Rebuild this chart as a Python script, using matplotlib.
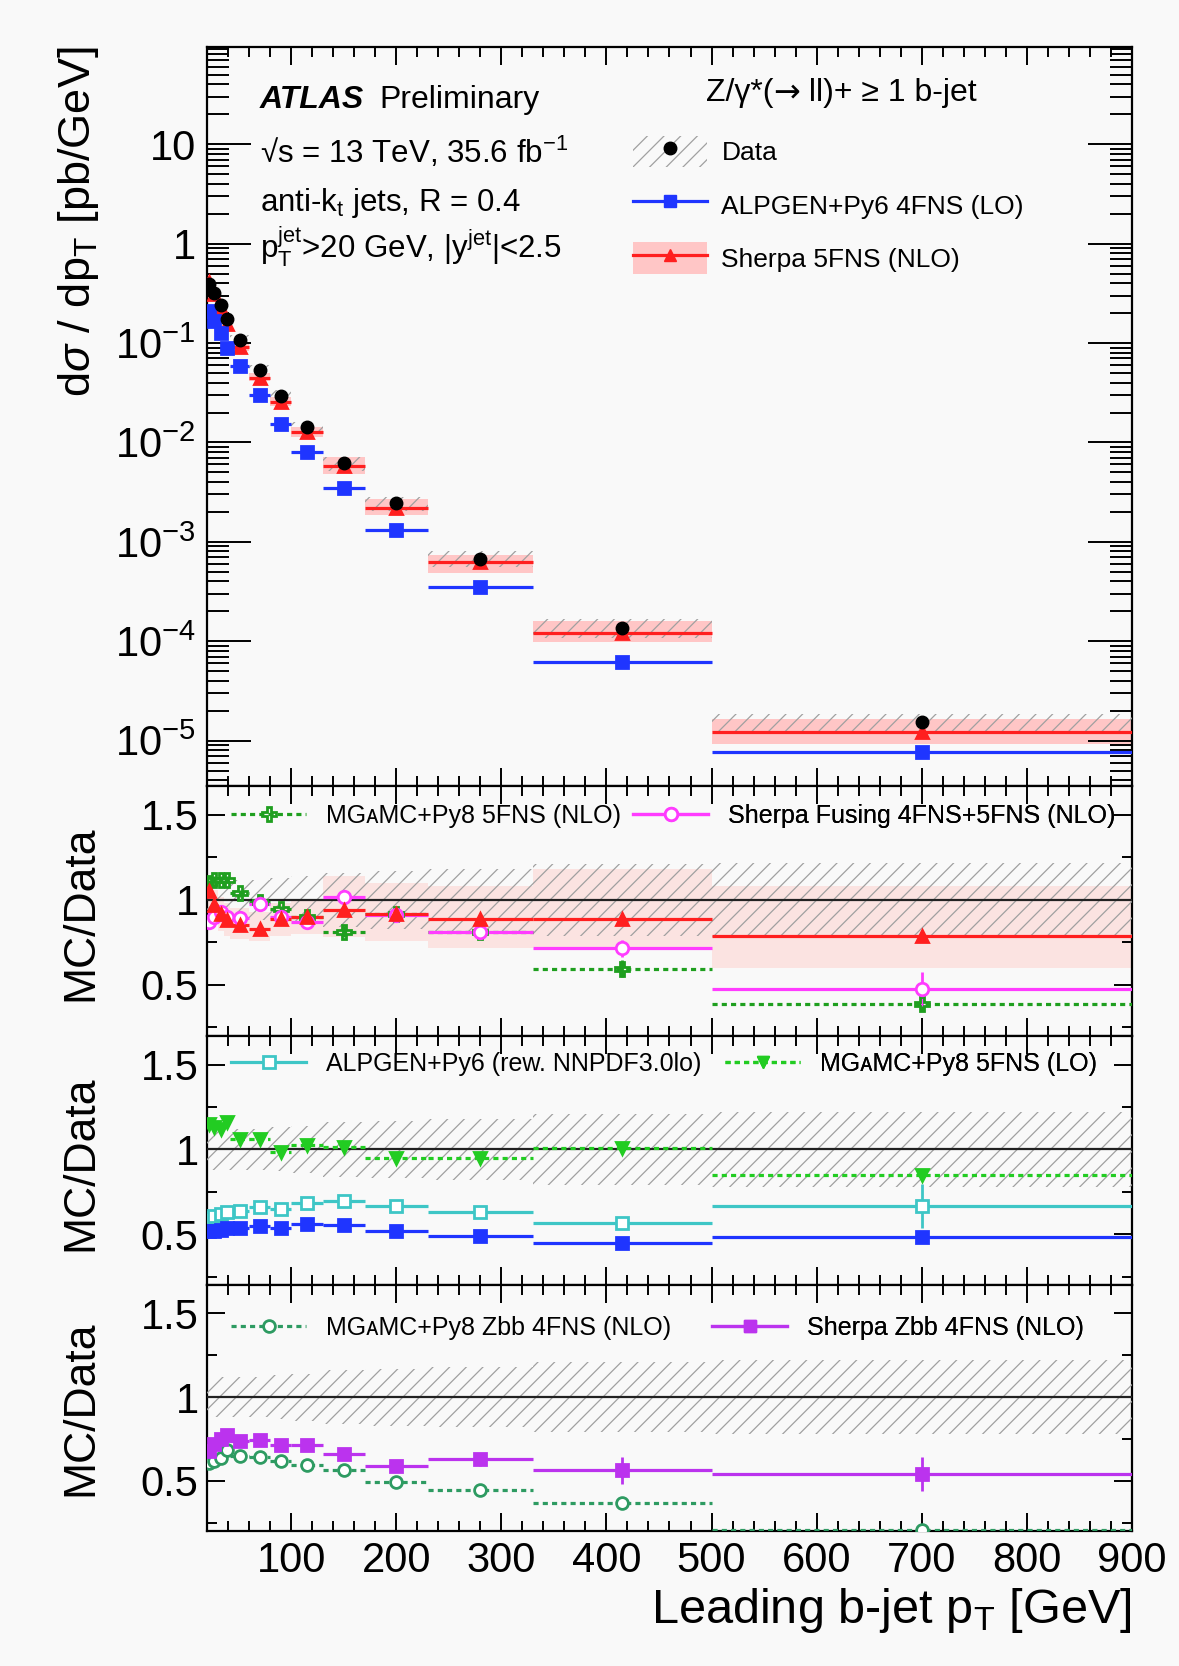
import numpy as np
import matplotlib.pyplot as plt
from matplotlib.lines import Line2D
from matplotlib.patches import Patch
from matplotlib.offsetbox import TextArea, HPacker, AnchoredOffsetbox
from matplotlib.ticker import MultipleLocator, LogLocator, FuncFormatter, NullFormatter, FixedLocator

# ===== fonts =====
plt.rcParams['font.family'] = ['Liberation Sans', 'DejaVu Sans']
plt.rcParams['mathtext.fontset'] = 'custom'
plt.rcParams['mathtext.rm'] = 'Liberation Sans'
plt.rcParams['mathtext.it'] = 'Liberation Sans:italic'
plt.rcParams['mathtext.bf'] = 'Liberation Sans:bold'
plt.rcParams['hatch.linewidth'] = 0.9

# ===== binning (leading b-jet pT) =====
bin_lo = np.array([20, 24, 30, 36, 42, 60, 80, 100, 130, 170, 230, 330, 500])
bin_hi = np.array([24, 30, 36, 42, 60, 80, 100, 130, 170, 230, 330, 500, 900])

# ===== top panel: dsigma/dpT [pb/GeV] =====
data_xs = np.array([0.39, 0.32, 0.24, 0.176, 0.108, 0.054, 0.0295, 0.0142, 0.0062,
                    0.00244, 6.8e-4, 1.37e-4, 1.53e-5])
data_stat = np.array([0.01, 0.01, 0.01, 0.01, 0.01, 0.01, 0.01, 0.02, 0.02,
                      0.03, 0.04, 0.06, 0.12])
data_unc = np.array([0.12, 0.12, 0.12, 0.12, 0.12, 0.12, 0.13, 0.14, 0.16,
                     0.17, 0.18, 0.21, 0.22])
alpgen_xs = np.array([0.209, 0.166, 0.126, 0.089, 0.059, 0.030, 0.0155, 0.0081, 0.00345,
                      0.00132, 3.5e-4, 6.2e-5, 7.7e-6])
sherpa_xs = np.array([0.41, 0.31, 0.225, 0.157, 0.091, 0.0448, 0.0258, 0.0127, 0.0058,
                      0.0022, 6.2e-4, 1.22e-4, 1.22e-5])

# ===== ratio panel 1 =====
sherpa5_r = np.array([1.05, 0.97, 0.92, 0.88, 0.853, 0.83, 0.89, 0.90, 0.94, 0.92, 0.89, 0.886, 0.788])
sherpa5_err = np.array([0.01, 0.01, 0.01, 0.01, 0.01, 0.01, 0.01, 0.01, 0.01, 0.01, 0.01, 0.01, 0.02])
sh_band_lo = np.array([0.93, 0.86, 0.82, 0.79, 0.77, 0.76, 0.79, 0.80, 0.78, 0.76, 0.72, 0.725, 0.60])
sh_band_hi = np.array([1.12, 1.06, 1.02, 0.98, 0.95, 0.93, 0.98, 1.00, 1.14, 1.10, 1.08, 1.18, 1.08])
mg5nlo_r = np.array([1.10, 1.12, 1.12, 1.12, 1.04, 0.99, 0.945, 0.90, 0.814, 0.92, 0.81, 0.594, 0.386])
mg5nlo_err = np.array([0.02, 0.02, 0.02, 0.02, 0.02, 0.02, 0.02, 0.02, 0.03, 0.03, 0.03, 0.05, 0.04])
fusing_r = np.array([0.873, 0.90, 0.931, 0.90, 0.892, 0.976, 0.902, 0.873, 1.016, 0.912, 0.81, 0.716, 0.475])
fusing_err = np.array([0.02, 0.02, 0.02, 0.02, 0.02, 0.02, 0.02, 0.02, 0.03, 0.03, 0.03, 0.05, 0.10])

# ===== ratio panel 2 =====
mg5lo_r = np.array([1.15, 1.13, 1.12, 1.16, 1.063, 1.059, 0.984, 1.029, 1.014, 0.951, 0.951, 1.008, 0.847])
mg5lo_err = np.array([0.01, 0.01, 0.01, 0.01, 0.01, 0.01, 0.01, 0.01, 0.01, 0.01, 0.01, 0.01, 0.03])
alprew_r = np.array([0.598, 0.606, 0.618, 0.631, 0.635, 0.661, 0.651, 0.686, 0.695, 0.667, 0.631, 0.567, 0.665])
alprew_err = np.array([0.01, 0.01, 0.01, 0.01, 0.01, 0.01, 0.01, 0.01, 0.01, 0.01, 0.02, 0.03, 0.13])
alpgen_r = np.array([0.52, 0.52, 0.525, 0.535, 0.537, 0.547, 0.535, 0.56, 0.553, 0.52, 0.488, 0.445, 0.484])
alpgen_err = np.array([0.01, 0.01, 0.01, 0.01, 0.01, 0.01, 0.01, 0.01, 0.01, 0.01, 0.01, 0.01, 0.03])

# ===== ratio panel 3 =====
shzbb_r = np.array([0.676, 0.72, 0.752, 0.775, 0.736, 0.744, 0.714, 0.712, 0.658, 0.587, 0.628, 0.563, 0.541])
shzbb_err = np.array([0.02, 0.02, 0.02, 0.02, 0.02, 0.02, 0.02, 0.02, 0.02, 0.02, 0.04, 0.08, 0.10])
mgzbb_r = np.array([0.604, 0.62, 0.634, 0.684, 0.65, 0.645, 0.618, 0.596, 0.563, 0.493, 0.447, 0.366, 0.205])
mgzbb_err = np.array([0.01, 0.01, 0.01, 0.01, 0.01, 0.01, 0.01, 0.01, 0.01, 0.01, 0.01, 0.02, 0.02])

# ===== colours =====
BG = '#f9f9f9'
RED = '#ff1f1f'
BLUE = '#1f35ff'
GREEN_NLO = '#1f9f1f'
GREEN_LO = '#22cc22'
TEAL = '#2e9b62'
CYAN = '#3ec6c6'
MAGENTA = '#ff3cff'
PURPLE = '#bb33ee'
PINK_TOP = '#ffc6c6'
PINK_R = '#fbe3e1'
HATCH = '#a0a0a0'
DASH = (0, (1.6, 1.3))

xc = (bin_lo + bin_hi) / 2
width = bin_hi - bin_lo

fig = plt.figure(figsize=(11.79, 16.66), dpi=100, facecolor=BG)
L, W = 0.1756, 0.7845
ax0 = fig.add_axes([L, 0.5282, W, 0.4436])
ax1 = fig.add_axes([L, 0.3782, W, 0.1500])
ax2 = fig.add_axes([L, 0.2287, W, 0.1495])
ax3 = fig.add_axes([L, 0.0810, W, 0.1477])
axes = [ax0, ax1, ax2, ax3]


def draw_series(ax, y, yerr, color, marker, ls='-', mfc=None, ms=8.5):
    ax.hlines(y, bin_lo, bin_hi, colors=color, linestyles=ls, lw=2.3, zorder=4)
    ax.errorbar(xc, y, yerr=yerr, fmt=marker, color=color,
                mfc=color if mfc is None else mfc, mec=color, ms=ms, mew=2,
                elinewidth=2, capsize=0, zorder=5)


def data_band(ax, center, rel):
    ax.bar(bin_lo, center * 2 * rel, bottom=center * (1 - rel), width=width,
           align='edge', facecolor='none', edgecolor=HATCH, hatch='//', lw=0, zorder=3)


# ---- 1. cross section ----
ax0.set_yscale('log')
ax0.bar(bin_lo, data_xs * (sh_band_hi - sh_band_lo), bottom=data_xs * sh_band_lo,
        width=width, align='edge', color=PINK_TOP, lw=0, zorder=1)
data_band(ax0, data_xs, data_unc)
draw_series(ax0, sherpa_xs, None, RED, '^', ms=8)
draw_series(ax0, alpgen_xs, None, BLUE, 's', ms=8)
ax0.errorbar(xc, data_xs, yerr=data_xs * data_stat, fmt='o', color='k', ms=9,
             elinewidth=2, capsize=0, zorder=6)
ax0.set_ylim(3.5e-6, 95)
ax0.yaxis.set_major_locator(LogLocator(base=10, numticks=20))
ax0.yaxis.set_minor_locator(LogLocator(base=10, subs=np.arange(2, 10), numticks=50))
ax0.yaxis.set_major_formatter(FuncFormatter(
    lambda v, p: '%d' % round(v) if v >= 1 else r'$10^{%d}$' % round(np.log10(v))))
ax0.yaxis.set_minor_formatter(NullFormatter())

# ---- 2. ratio panels ----
ax1.bar(bin_lo, sh_band_hi - sh_band_lo, bottom=sh_band_lo, width=width,
        align='edge', color=PINK_R, lw=0, zorder=1)
for ax in [ax1, ax2, ax3]:
    data_band(ax, np.ones_like(data_unc), data_unc)
    ax.axhline(1, color='#222222', lw=1.6, zorder=3.5)
    ax.set_ylim(0.2, 1.67)
    ax.yaxis.set_major_locator(FixedLocator([0.5, 1.0, 1.5]))
    ax.yaxis.set_minor_locator(FixedLocator([0.25, 0.75, 1.25]))
    ax.yaxis.set_major_formatter(FuncFormatter(lambda v, p: '%g' % v))

draw_series(ax1, mg5nlo_r, mg5nlo_err, GREEN_NLO, 'P', ls=DASH, mfc='none', ms=10)
draw_series(ax1, fusing_r, fusing_err, MAGENTA, 'o', mfc='white', ms=9)
draw_series(ax1, sherpa5_r, sherpa5_err, RED, '^', ms=8.5)

draw_series(ax2, mg5lo_r, mg5lo_err, GREEN_LO, 'v', ls=DASH, ms=8.5)
draw_series(ax2, alprew_r, alprew_err, CYAN, 's', mfc='white', ms=8.5)
draw_series(ax2, alpgen_r, alpgen_err, BLUE, 's', ms=8.5)

draw_series(ax3, mgzbb_r, mgzbb_err, TEAL, 'o', ls=DASH, mfc='white', ms=8.5)
draw_series(ax3, shzbb_r, shzbb_err, PURPLE, 's', ms=8.5)

# ---- 3. axes style ----
for ax in axes:
    ax.set_facecolor(BG)
    ax.set_xlim(20, 900)
    ax.xaxis.set_major_locator(MultipleLocator(100))
    ax.xaxis.set_minor_locator(MultipleLocator(20))
    for s in ax.spines.values():
        s.set_linewidth(1.6)
    ax.tick_params(which='both', direction='in', top=True, right=True,
                   labelsize=30, width=1.4)
    ax.tick_params(axis='x', which='major', length=13, pad=7)
    ax.tick_params(axis='x', which='minor', length=7)
    if ax is not ax3:
        ax.tick_params(axis='x', labelbottom=False)
ax0.tick_params(axis='y', which='major', length=32, pad=8)
ax0.tick_params(axis='y', which='minor', length=16)
for ax in [ax1, ax2, ax3]:
    ax.tick_params(axis='y', which='major', length=13, pad=6)
    ax.tick_params(axis='y', which='minor', length=7)

# ---- 4. labels ----
fig.text(0.067, 0.9718, r'd$\sigma$ / dp$_{\mathrm{T}}$ [pb/GeV]', rotation=90,
         ha='center', va='top', fontsize=32.5)
for yc in [0.452, 0.302, 0.155]:
    fig.text(0.069, yc, 'MC/Data', rotation=90, ha='center', va='center', fontsize=32)
fig.text(0.960, 0.0258, r'Leading b-jet p$_{\mathrm{T}}$ [GeV]', ha='right',
         va='baseline', fontsize=35)

fig.text(0.2205, 0.9352, 'ATLAS', fontsize=23, weight='bold', style='italic')
fig.text(0.3215, 0.9352, 'Preliminary', fontsize=23)
fig.text(0.2205, 0.9022, '√s = 13 TeV, 35.6 fb$^{\\mathrm{-1}}$', fontsize=22.5)
fig.text(0.2205, 0.8735, r'anti-k$_{\mathrm{t}}$ jets, R = 0.4', fontsize=22.5)
fig.text(0.2205, 0.8450, r'p$_{\mathrm{T}}^{\mathrm{jet}}$>20 GeV, |y$^{\mathrm{jet}}$|<2.5',
         fontsize=22.5)

# process label, arrow taken from DejaVu (Liberation arrow is tiny)
proc = HPacker(children=[
    TextArea('Z/γ*(', textprops=dict(fontsize=23)),
    TextArea('→', textprops=dict(fontsize=23, family='DejaVu Sans')),
    TextArea(' ll)+ ≥ 1 b-jet', textprops=dict(fontsize=23)),
], sep=0, pad=0, align='baseline')
fig.add_artist(AnchoredOffsetbox(loc='center', child=proc, pad=0, borderpad=0, frameon=False,
                                 bbox_to_anchor=(0.7134, 1 - 93 / 1666),
                                 bbox_transform=fig.transFigure))

# ---- 5. legends ----
h_data = (Patch(facecolor='none', edgecolor=HATCH, hatch='//', lw=0),
          Line2D([], [], color='k', marker='o', ls='none', ms=9))
h_alp = Line2D([], [], color=BLUE, lw=2.3, marker='s', ms=8)
h_sh = (Patch(facecolor=PINK_TOP, lw=0), Line2D([], [], color=RED, lw=2.3, marker='^', ms=8))
ax0.legend([h_data, h_alp, h_sh], ['Data', 'ALPGEN+Py6 4FNS (LO)', 'Sherpa 5FNS (NLO)'],
           loc='upper left', bbox_to_anchor=(633 / 1179, 1 - 136 / 1666),
           bbox_transform=fig.transFigure, frameon=False, fontsize=19,
           handlelength=2.8, handleheight=1.45, handletextpad=0.55,
           labelspacing=0.83, borderpad=0, borderaxespad=0)


def ratio_entry(ax, handle, label, x_px, y_px):
    leg = ax.legend([handle], [label], loc='center left',
                    bbox_to_anchor=(x_px / 1179, 1 - y_px / 1666),
                    bbox_transform=fig.transFigure, frameon=False, fontsize=18,
                    handlelength=3.0, handletextpad=0.8, borderpad=0, borderaxespad=0)
    ax.add_artist(leg)


ratio_entry(ax1, Line2D([], [], color=GREEN_NLO, ls=DASH, lw=2.3, marker='P', mfc='none', ms=10, mew=2),
            'MGᴀMC+Py8 5FNS (NLO)', 231, 816)
ratio_entry(ax1, Line2D([], [], color=MAGENTA, lw=2.3, marker='o', mfc='white', ms=9, mew=2),
            'Sherpa Fusing 4FNS+5FNS (NLO)', 633, 816)
ratio_entry(ax2, Line2D([], [], color=CYAN, lw=2.3, marker='s', mfc='white', ms=8.5, mew=2),
            'ALPGEN+Py6 (rew. NNPDF3.0lo)', 231, 1064)
ratio_entry(ax2, Line2D([], [], color=GREEN_LO, ls=DASH, lw=2.3, marker='v', ms=8.5),
            'MGᴀMC+Py8 5FNS (LO)', 725, 1064)
ratio_entry(ax3, Line2D([], [], color=TEAL, ls=DASH, lw=2.3, marker='o', mfc='white', ms=8.5, mew=2),
            'MGᴀMC+Py8 Zbb 4FNS (NLO)', 231, 1328)
ratio_entry(ax3, Line2D([], [], color=PURPLE, lw=2.3, marker='s', ms=8.5),
            'Sherpa Zbb 4FNS (NLO)', 712, 1328)

plt.savefig('out.png', dpi=100, facecolor=BG)
plt.close()
